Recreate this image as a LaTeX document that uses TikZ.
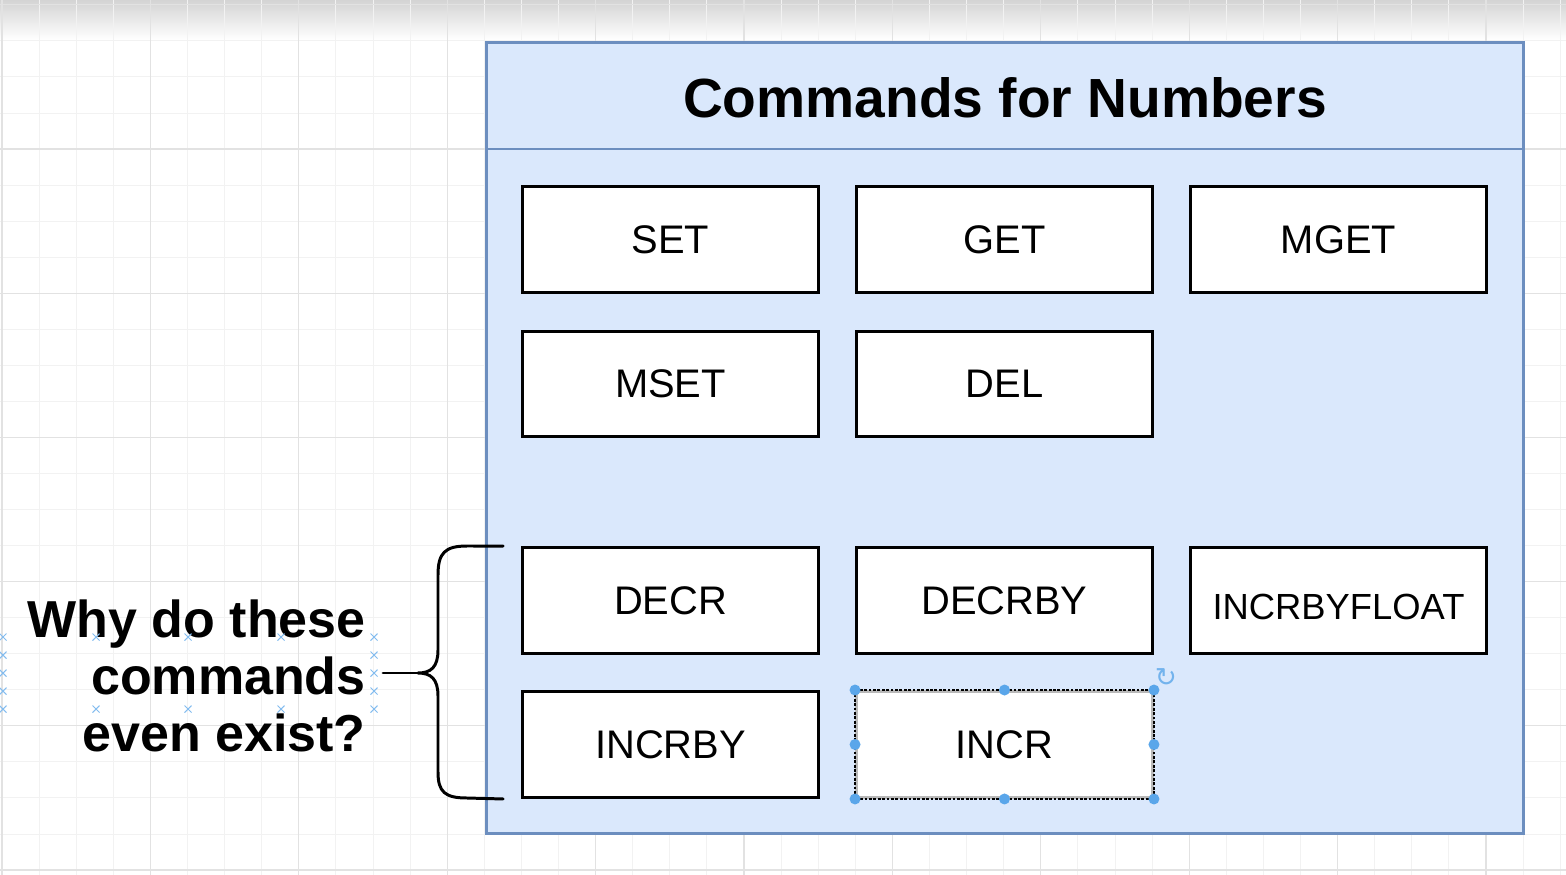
\documentclass[tikz,border=0pt]{standalone}
\usepackage{fontspec}
\setmainfont{Liberation Sans}
\newfontfamily\symbolfont{DejaVu Sans}
\usepackage{tikz}
\usetikzlibrary{arrows.meta,positioning,calc}
\definecolor{panelfill}{HTML}{DAE8FC}
\definecolor{panelline}{HTML}{6C8EBF}
\definecolor{gridminor}{HTML}{F2F2F2}
\definecolor{gridmajor}{HTML}{E2E2E2}
\definecolor{handle}{HTML}{5AA6EA}
\tikzset{
  cmd/.style={draw, line width=1.7pt, fill=white, align=center, inner sep=0pt,
    minimum width=5.92cm, minimum height=2.12cm, font=\fontsize{22.7}{27}\selectfont},
  panel/.style={draw=panelline, fill=panelfill, line width=1.7pt},
  brace/.style={draw, line width=1.7pt, line cap=round, line join=round}
}

\begin{document}
\begin{tikzpicture}[x=0.02cm, y=-0.02cm,
    title/.style={font=\bfseries\fontsize{31.4}{36}\selectfont},
    question/.style={font=\bfseries\fontsize{29.6}{32.6}\selectfont, align=right, inner sep=0pt},
    picked/.style={cmd, draw=gray!55},
    hintmark/.style={draw=handle!75, line width=0.6pt}
  ]
    \path[use as bounding box] (0,0) rectangle (1566,875);
    \shade[top color=black!17, bottom color=white] (0,0) rectangle (1566,40);
    \foreach \k in {0,...,42} \draw[gridminor, line width=0.5pt] (2+37.1*\k,0) -- (2+37.1*\k,875);
    \foreach \k in {-4,...,20} \draw[gridminor, line width=0.5pt] (0,149+36.05*\k) -- (1566,149+36.05*\k);
    \foreach \k in {0,4,...,40} \draw[gridmajor, line width=0.6pt] (2+37.1*\k,0) -- (2+37.1*\k,875);
    \foreach \k in {-4,0,...,20} \draw[gridmajor, line width=0.6pt] (0,149+36.05*\k) -- (1566,149+36.05*\k);

    \draw[panel] (486.5,42.5) rectangle (1523.5,833.5);
    \draw[panel] (486.5,149) -- (1523.5,149);
    \node[title] (head) at (1005,98) {Commands for Numbers};

    \node[cmd] (set) at (670.5,239.5) {SET};
    \node[cmd] (get) at (1004.5,239.5) {GET};
    \node[cmd] (mget) at (1338.5,239.5) {MGET};
    \node[cmd] (mset) at (670.5,384) {MSET};
    \node[cmd] (del) at (1004.5,384) {DEL};
    \node[cmd] (decr) at (670.5,600.5) {DECR};
    \node[cmd] (decrby) at (1004.5,600.5) {DECRBY};
    \node[cmd, font=\fontsize{20.7}{24}\selectfont, text height=0.76cm, text depth=0cm] (incrbyfloat) at (1338.5,600.5) {INCRBYFLOAT};
    \node[cmd] (incrby) at (670.5,744.5) {INCRBY};
    \node[picked] (incr) at (1004.5,744.5) {INCR};

    \draw[line width=1.1pt, dash pattern=on 1.6pt off 0.9pt] (incr.north west) rectangle (incr.south east);
    \foreach \a in {north west,north,north east,east,south east,south,south west,west}
      \fill[handle] (incr.\a) circle[radius=1.1mm];
    \node[text=handle!85, font=\symbolfont\fontsize{15}{15}\selectfont, inner sep=0pt] (turn) at (1166,678) {↻};

    \node[question, anchor=east] (why) at (366,676) {Why do these\\commands\\even exist?};
    \foreach \x/\y in {3/637,3/655,3/673,3/691,3/709,374/637,374/655,374/673,374/691,374/709,
        96/637,188/637,281/637,96/709,188/709,281/709}
      \draw[hintmark] (\x-3.5,\y-3.5) -- (\x+3.5,\y+3.5) (\x-3.5,\y+3.5) -- (\x+3.5,\y-3.5);

    \coordinate (stem) at (383,673);
    \coordinate (tip) at (418,673);
    \draw[brace] (stem) -- (tip);
    \draw[brace] ($(decr.north west)+(-18,0)$) -- (467,546)
      .. controls (445,546) and (438,553) .. (438,575) -- (438,650)
      .. controls (438,667) and (431,673) .. (tip)
      .. controls (431,673) and (438,679) .. (438,696) -- (438,772)
      .. controls (438,792) and (445,798) .. (467,798)
      -- ($(incrby.south west)+(-18,0)$);
  \end{tikzpicture}
\end{document}
